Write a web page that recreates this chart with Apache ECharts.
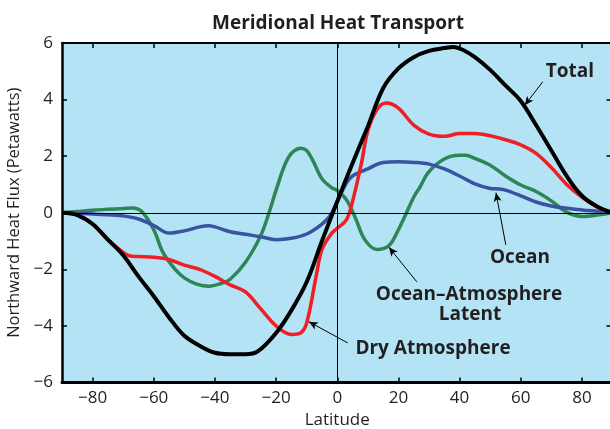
<!DOCTYPE html>
<html>
<head>
<meta charset="utf-8">
<script src="https://cdn.jsdelivr.net/npm/echarts@6/dist/echarts.min.js"></script>
<style>
  html, body { margin: 0; padding: 0; background: #fff; }
  #chart { width: 610px; height: 429px; }
</style>
</head>
<body>
<div id="chart"></div>
<script>
// latitude (deg) / northward heat flux (PW)
const total = [
  [-90, 0], [-85, -0.08], [-80, -0.4], [-75, -0.95], [-70, -1.5], [-65, -2.25],
  [-60, -2.95], [-55, -3.7], [-50, -4.35], [-45, -4.7], [-40, -4.95], [-35, -5.0],
  [-30, -5.0], [-26, -4.9], [-20, -4.25], [-15, -3.45], [-10, -2.45], [-5, -1.0],
  [0, 0.4], [5, 1.75], [10, 3.05], [15, 4.4], [20, 5.1], [25, 5.5], [30, 5.72],
  [35, 5.82], [38, 5.86], [41, 5.76], [45, 5.5], [50, 5.05], [55, 4.5], [60, 3.95],
  [65, 3.1], [70, 2.2], [75, 1.3], [80, 0.6], [85, 0.22], [90, 0]
];
const dryAtmos = [
  [-90, 0], [-85, -0.08], [-80, -0.4], [-75, -0.95], [-70, -1.4], [-68, -1.52],
  [-65, -1.55], [-60, -1.57], [-55, -1.65], [-50, -1.85], [-45, -2.0], [-40, -2.25],
  [-35, -2.55], [-30, -2.8], [-25, -3.4], [-20, -4.0], [-15, -4.3], [-12, -4.25],
  [-10, -3.9], [-7, -2.3], [-5, -1.3], [-2, -0.75], [0, -0.55], [3, -0.25],
  [5, 0.4], [8, 1.8], [10, 2.9], [13, 3.65], [16, 3.88], [20, 3.7], [25, 3.1],
  [30, 2.78], [35, 2.7], [40, 2.8], [45, 2.8], [50, 2.72], [55, 2.58], [60, 2.4],
  [65, 2.1], [70, 1.6], [75, 1.0], [80, 0.55], [85, 0.2], [90, 0]
];
const ocean = [
  [-90, 0], [-85, -0.02], [-80, -0.04], [-75, -0.07], [-70, -0.11], [-65, -0.22],
  [-60, -0.45], [-55, -0.72], [-50, -0.64], [-45, -0.5], [-42, -0.46], [-40, -0.5],
  [-35, -0.67], [-30, -0.76], [-25, -0.85], [-20, -0.95], [-15, -0.9], [-10, -0.75],
  [-5, -0.4], [-2, -0.05], [0, 0.4], [3, 1.05], [5, 1.3], [10, 1.55], [15, 1.78],
  [20, 1.8], [25, 1.78], [30, 1.72], [35, 1.55], [40, 1.3], [45, 1.02], [50, 0.86],
  [53, 0.84], [55, 0.8], [60, 0.6], [65, 0.38], [70, 0.24], [75, 0.16], [80, 0.1],
  [85, 0.05], [90, 0]
];
const latent = [
  [-90, 0], [-85, 0.04], [-80, 0.09], [-75, 0.12], [-70, 0.15], [-67, 0.17],
  [-64, 0.05], [-60, -0.6], [-57, -1.4], [-53, -2.0], [-50, -2.3], [-46, -2.52],
  [-42, -2.6], [-38, -2.5], [-35, -2.35], [-30, -1.75], [-25, -0.8], [-22, 0.1],
  [-20, 0.8], [-16, 1.95], [-12, 2.28], [-10, 2.2], [-8, 1.85], [-5, 1.2],
  [-2, 0.9], [0, 0.78], [3, 0.46], [6, -0.2], [9, -0.95], [13, -1.3], [17, -1.15],
  [20, -0.6], [22, -0.15], [25, 0.55], [27, 0.9], [30, 1.45], [35, 1.9], [40, 2.03],
  [42, 2.03], [45, 1.92], [50, 1.68], [55, 1.3], [60, 0.98], [65, 0.75], [70, 0.42],
  [75, 0.02], [80, -0.13], [85, -0.08], [90, 0]
];
const xTicks = [-80, -60, -40, -20, 0, 20, 40, 60, 80];

// arrows: [from, to] in data coords
const arrows = [
  [[67.2, 4.63], [61.3, 3.8]],
  [[55.1, -1.13], [51.9, 0.71]],
  [[26.0, -2.44], [16.9, -1.22]],
  [[3.4, -4.6], [-9.3, -3.85]]
];

const font = '"Open Sans", "Noto Sans", sans-serif';
const ink = '#231f20';
const minus = v => String(v).replace('-', '\u2212');

const chart = echarts.init(document.getElementById('chart'));

function line(name, data, color, width, extra) {
  return Object.assign({
    name: name,
    type: 'line',
    data: data,
    smooth: 0.35,
    showSymbol: false,
    silent: true,
    lineStyle: { color: color, width: width },
    itemStyle: { color: color }
  }, extra || {});
}

function note(text, x, y) {
  return {
    type: 'text', x: x, y: y, z: 10,
    style: { text: text, fontFamily: font, fontWeight: 'bold', fontSize: 19, fill: ink, align: 'center', verticalAlign: 'middle' }
  };
}

const tickStyle = { color: '#000', width: 1.5 };
const thin = { color: '#000', width: 1, type: 'solid' };

chart.setOption({
  animation: false,
  grid: {
    left: 62, top: 43, width: 550.5, height: 339.5,
    outerBoundsMode: 'none', containLabel: false,
    show: true, backgroundColor: '#b4e3f5', borderWidth: 0
  },
  xAxis: [{
    type: 'value', min: -90, max: 90, position: 'bottom',
    name: 'Latitude', nameLocation: 'middle', nameGap: 29,
    nameTextStyle: { fontFamily: font, fontSize: 17, color: ink },
    axisLine: { show: true, onZero: false, lineStyle: { color: '#000', width: 3 } },
    axisTick: { show: true, inside: true, length: 5, customValues: xTicks, lineStyle: tickStyle },
    axisLabel: { customValues: xTicks, fontFamily: font, fontSize: 17, color: ink, margin: 7, formatter: minus },
    splitLine: { show: false }
  }, {
    type: 'value', min: -90, max: 90, position: 'top',
    axisLine: { show: true, onZero: false, lineStyle: { color: '#000', width: 2 } },
    axisTick: { show: true, inside: true, length: 5, customValues: xTicks, lineStyle: tickStyle },
    axisLabel: { show: false },
    splitLine: { show: false }
  }],
  yAxis: [{
    type: 'value', min: -6, max: 6, interval: 2, position: 'left',
    name: 'Northward Heat Flux (Petawatts)', nameLocation: 'middle', nameGap: 31,
    nameTextStyle: { fontFamily: font, fontSize: 16.5, color: ink },
    axisLine: { show: true, onZero: false, lineStyle: { color: '#000', width: 2.5 } },
    axisTick: { show: true, inside: true, length: 5, lineStyle: tickStyle },
    axisLabel: { fontFamily: font, fontSize: 17, color: ink, margin: 9, formatter: minus },
    splitLine: { show: false }
  }, {
    type: 'value', min: -6, max: 6, interval: 2, position: 'right',
    axisLine: { show: true, onZero: false, lineStyle: { color: '#000', width: 2.5 } },
    axisTick: { show: true, inside: true, length: 6, lineStyle: tickStyle },
    axisLabel: { show: false },
    splitLine: { show: false }
  }],
  series: [
    line('Ocean-Atmosphere Latent', latent, '#2e8556', 3.5),
    line('Ocean', ocean, '#3a52a3', 3.5),
    line('Dry Atmosphere', dryAtmos, '#ee1f26', 3.5),
    line('Total', total, '#000000', 4, {
      markLine: {
        silent: true,
        animation: false,
        symbol: ['none', 'none'],
        label: { show: false },
        lineStyle: thin,
        data: [
          { xAxis: 0, lineStyle: thin },
          { yAxis: 0, lineStyle: thin }
        ].concat(arrows.map(a => [
          { coord: a[0], symbol: 'none', lineStyle: thin },
          { coord: a[1], symbol: 'arrow', symbolSize: [6, 9] }
        ]))
      }
    })
  ],
  graphic: [
    note('Meridional Heat Transport', 338, 24),
    note('Total', 570, 72),
    note('Ocean', 520, 258),
    note('Ocean\u2013Atmosphere', 469, 295),
    note('Latent', 470, 315),
    note('Dry Atmosphere', 433, 349)
  ]
});
</script>
</body>
</html>
